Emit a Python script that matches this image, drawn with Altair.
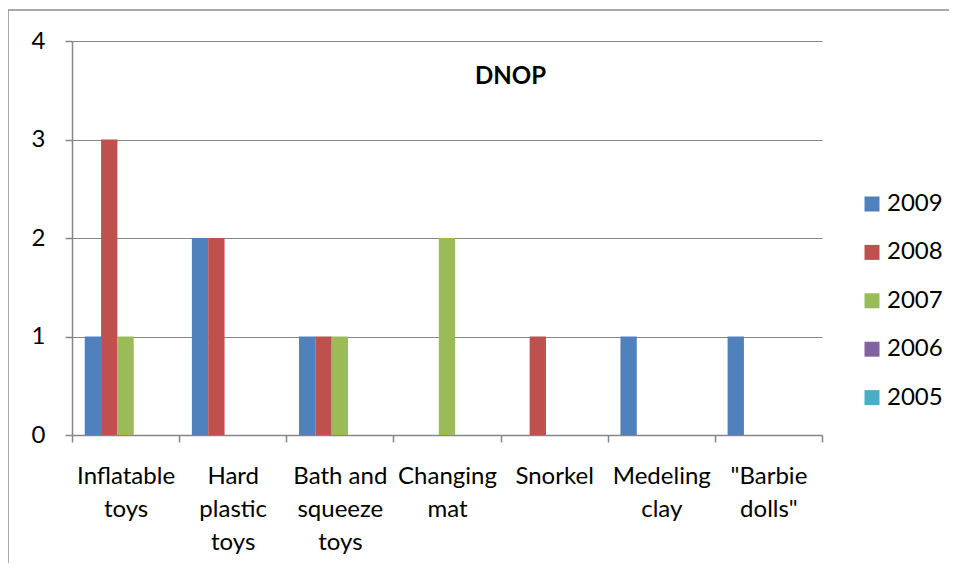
import altair as alt
import pandas as pd
import json

categories = ["Inflatable toys", "Hard plastic toys", "Bath and squeeze toys",
              "Changing mat", "Snorkel", "Medeling clay", "\"Barbie dolls\""]
category_lines = [["Inflatable", "toys"], ["Hard", "plastic", "toys"],
                  ["Bath and", "squeeze", "toys"], ["Changing", "mat"],
                  ["Snorkel"], ["Medeling", "clay"], ["\"Barbie", "dolls\""]]
series = ["2009", "2008", "2007", "2006", "2005"]
values = {
    "2009": [1, 2, 1, 0, 0, 1, 1],
    "2008": [3, 2, 1, 0, 1, 0, 0],
    "2007": [1, 0, 1, 2, 0, 0, 0],
    "2006": [0, 0, 0, 0, 0, 0, 0],
    "2005": [0, 0, 0, 0, 0, 0, 0],
}
colors = ["#4F81BD", "#C0504D", "#9BBB59", "#8064A2", "#4BACC6"]
y_ticks = [0, 1, 2, 3, 4]
chart_title = "DNOP"

rows = []
for s in series:
    for c, v in zip(categories, values[s]):
        rows.append({"category": c, "year": s, "value": v})
df = pd.DataFrame(rows)

mapping = {c: l for c, l in zip(categories, category_lines)}
label_expr = f"{json.dumps(mapping)}[datum.label]"

FONT = "Lato"
FS = 24
GRID = "#868686"

bars = alt.Chart(df).mark_bar().encode(
    x=alt.X("category:N", sort=categories, title=None,
            scale=alt.Scale(paddingInner=0, paddingOuter=0),
            axis=alt.Axis(labelAngle=0, labelExpr=label_expr, tickBand="extent",
                          ticks=True, tickSize=7, tickColor=GRID, domainColor=GRID,
                          labelFont=FONT, labelFontSize=FS, labelColor="#000",
                          labelLineHeight=33, labelPadding=22, labelBaseline="top",
                          grid=False, labelLimit=200)),
    xOffset=alt.XOffset("year:N", sort=series,
                        scale=alt.Scale(domain=series, paddingInner=0, paddingOuter=0.78)),
    y=alt.Y("value:Q", title=None,
            scale=alt.Scale(domain=[0, 4]),
            axis=alt.Axis(values=y_ticks, format="d", tickSize=7, tickColor=GRID,
                          domainColor=GRID, gridColor=GRID, grid=True,
                          labelFont=FONT, labelFontSize=FS, labelColor="#000",
                          labelPadding=20)),
    color=alt.Color("year:N", sort=series,
                    scale=alt.Scale(domain=series, range=colors),
                    legend=alt.Legend(title=None, orient="none", legendX=788, legendY=151,
                                      padding=0,
                                      symbolType="square", symbolSize=225,
                                      symbolStrokeWidth=0, labelFont=FONT,
                                      labelFontSize=FS, labelColor="#000",
                                      rowPadding=24.4, labelOffset=3)),
)

title_df = pd.DataFrame({"t": [chart_title]})
title = alt.Chart(title_df).mark_text(font=FONT, fontSize=FS, fontWeight="bold",
                                      color="#000", align="left", baseline="middle").encode(
    x=alt.value(403), y=alt.value(36), text="t:N")

frame_df = pd.DataFrame({"k": [0]})
left_border = alt.Chart(frame_df).mark_rule(color="#8c8c8c", strokeWidth=1.5).encode(
    x=alt.value(-64), y=alt.value(-31), y2=alt.value(700))
top_border = alt.Chart(frame_df).mark_rule(color="#8c8c8c", strokeWidth=1.5).encode(
    x=alt.value(-64), x2=alt.value(1000), y=alt.value(-31))

chart = alt.layer(bars, title, left_border, top_border).properties(
    width=750, height=394,
    autosize=alt.AutoSizeParams(type="none"),
    padding={"left": 64, "top": 33, "right": 127, "bottom": 128},
).configure_view(stroke=None).configure_axis(domainWidth=1.5, gridWidth=1.2, tickWidth=1.5)

chart.save("out.html", embed_options={"renderer": "svg", "actions": False})
